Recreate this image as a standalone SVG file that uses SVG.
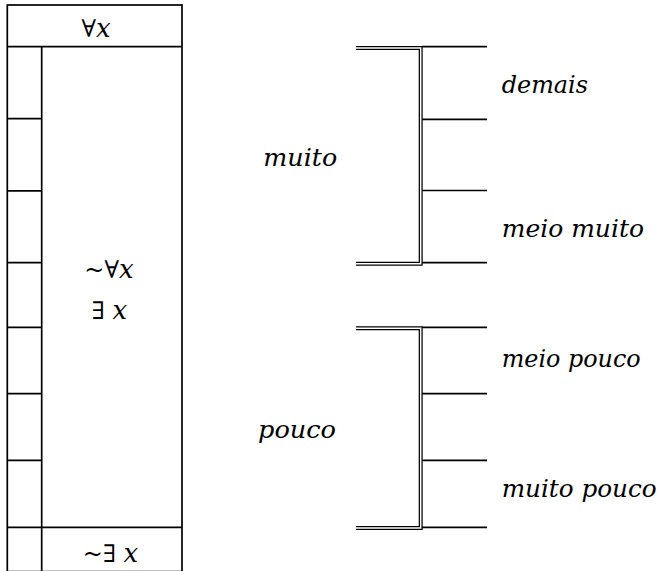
<svg xmlns="http://www.w3.org/2000/svg" width="664" height="571" viewBox="0 0 664 571">
<style>
.ln{stroke:#000;stroke-width:1.7;fill:none}
.dbo{stroke:#000;stroke-width:4;fill:none;stroke-linejoin:miter}
.dbi{stroke:#fff;stroke-width:1.5;fill:none;stroke-linejoin:miter}
.w{font-family:'DejaVu Serif',serif;font-style:italic;font-size:25px;fill:#000}
.m{font-family:'DejaVu Serif',serif;font-size:24px;fill:#000}
.mi{font-family:'DejaVu Serif',serif;font-style:italic;font-size:26px}
</style>
<rect width="664" height="571" fill="#fff"/>
<g id="table">
<rect class="ln" x="7.3" y="5" width="174.7" height="566.6"/>
<line class="ln" x1="7.3" y1="46.7" x2="182" y2="46.7"/>
<line class="ln" x1="41.7" y1="46.7" x2="41.7" y2="571"/>
<line class="ln" x1="7.3" y1="118.7" x2="41.7" y2="118.7"/>
<line class="ln" x1="7.3" y1="190.8" x2="41.7" y2="190.8"/>
<line class="ln" x1="7.3" y1="262.7" x2="41.7" y2="262.7"/>
<line class="ln" x1="7.3" y1="327.3" x2="41.7" y2="327.3"/>
<line class="ln" x1="7.3" y1="393.7" x2="41.7" y2="393.7"/>
<line class="ln" x1="7.3" y1="460.3" x2="41.7" y2="460.3"/>
<line class="ln" x1="7.3" y1="527.3" x2="182" y2="527.3"/>
</g>
<g id="forall"><text class="m" x="96" y="37" text-anchor="middle">∀<tspan class="mi">x</tspan></text></g>
<g id="notforall"><text class="m" x="109" y="278" text-anchor="middle">~∀<tspan class="mi">x</tspan></text></g>
<g id="exists"><text class="m" x="109.5" y="319" text-anchor="middle">∃ <tspan class="mi">x</tspan></text></g>
<g id="notexists"><text class="m" x="110.5" y="561.5" text-anchor="middle">~∃ <tspan class="mi">x</tspan></text></g>
<g id="connectors">
<path class="dbo" d="M356,48 H420.7 V263.7 H356"/>
<path class="dbi" d="M356,48 H420.7 V263.7 H356"/>
<path class="dbo" d="M356,328.3 H420.7 V527.9 H356"/>
<path class="dbi" d="M356,328.3 H420.7 V527.9 H356"/>
<line class="ln" x1="422" y1="46.7" x2="487" y2="46.7"/>
<line class="ln" x1="422" y1="119.3" x2="487" y2="119.3"/>
<line class="ln" x1="422" y1="190.5" x2="487" y2="190.5"/>
<line class="ln" x1="422" y1="262.7" x2="487" y2="262.7"/>
<line class="ln" x1="422" y1="327.3" x2="487" y2="327.3"/>
<line class="ln" x1="422" y1="393.7" x2="487" y2="393.7"/>
<line class="ln" x1="422" y1="460.3" x2="487" y2="460.3"/>
<line class="ln" x1="422" y1="527.3" x2="487" y2="527.3"/>
</g>
<g id="muito"><text class="w" x="263.3" y="166" textLength="74" lengthAdjust="spacingAndGlyphs">muito</text></g>
<g id="pouco"><text class="w" x="258" y="438" textLength="78" lengthAdjust="spacingAndGlyphs">pouco</text></g>
<g id="demais"><text class="w" x="501.7" y="93.3" textLength="86.3" lengthAdjust="spacingAndGlyphs">demais</text></g>
<g id="meio-muito"><text class="w" x="501.7" y="236.7" textLength="142.3" lengthAdjust="spacingAndGlyphs">meio muito</text></g>
<g id="meio-pouco"><text class="w" x="501.7" y="367" textLength="139" lengthAdjust="spacingAndGlyphs">meio pouco</text></g>
<g id="muito-pouco"><text class="w" x="501.7" y="496.7" textLength="155" lengthAdjust="spacingAndGlyphs">muito pouco</text></g>
</svg>
